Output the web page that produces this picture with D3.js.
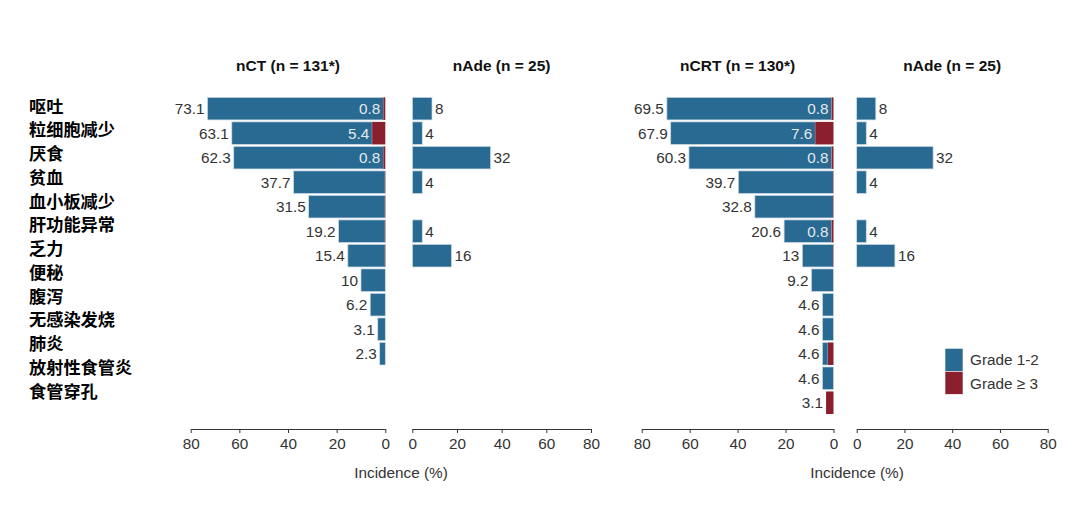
<!DOCTYPE html>
<html><head><meta charset="utf-8">
<script src="https://cdn.jsdelivr.net/npm/d3@7"></script>
<style>html,body{margin:0;padding:0;background:#fff;}</style>
</head><body>
<svg id="chart" width="1080" height="510"></svg>
<script>
const categories = ["呕吐","粒细胞减少","厌食","贫血","血小板减少","肝功能异常","乏力","便秘","腹泻","无感染发烧","肺炎","放射性食管炎","食管穿孔"];
// total incidence (%) per category, null = no bar
const nctTotal  = [73.1, 63.1, 62.3, 37.7, 31.5, 19.2, 15.4, 10, 6.2, 3.1, 2.3, null, null];
const nctGrade3 = [0.8, 5.4, 0.8, 0, 0, 0, 0, null, null, null, null, null, null];
const ncrtTotal  = [69.5, 67.9, 60.3, 39.7, 32.8, 20.6, 13, 9.2, 4.6, 4.6, 4.6, 4.6, 3.1];
const ncrtGrade3 = [0.8, 7.6, 0.8, 0, 0, 0.8, 0, null, null, null, 2.3, null, 3.1];
const adeLeft  = [8, 4, 32, 4, null, 4, 16, null, null, null, null, null, null];
const adeRight = [8, 4, 32, 4, null, 4, 16, null, null, null, null, null, null];
const titles = ["nCT (n = 131*)", "nAde (n = 25)", "nCRT (n = 130*)", "nAde (n = 25)"];
const tickValues = [0, 20, 40, 60, 80];
const legendLabels = ["Grade 1-2", "Grade \u2265 3"];
const axisTitle = "Incidence (%)";

const BLUE = "#286a91", RED = "#8a1f2e", TXT = "#333333";
const FONT = "'Liberation Sans', Arial, sans-serif";
const FS = 15.3;
const svg = d3.select("#chart");

const y = d3.scaleBand().domain(categories).range([96.4, 415]).paddingInner(0.08).paddingOuter(0.04);
const yLab = d3.scalePoint().domain(categories).range([105, 390]);

// category labels
svg.append("g").selectAll("text").data(categories).join("text")
  .attr("x", 29).attr("y", d => yLab(d)).attr("dominant-baseline", "central")
  .attr("font-family", "'Noto Sans CJK SC', sans-serif").attr("font-weight", "bold")
  .attr("font-size", 17.2).attr("fill", "#000").text(d => d);

const panels = [
  {title: titles[0], total: nctTotal, g3: nctGrade3, dir: -1,
   xBar: d3.scaleLinear().domain([0,80]).range([385.3,190.7]),
   xAxis: d3.scaleLinear().domain([0,80]).range([385.3,190.7])},
  {title: titles[1], total: adeLeft, g3: null, dir: 1,
   xBar: d3.scaleLinear().domain([0,80]).range([412.5,607.5]),
   xAxis: d3.scaleLinear().domain([0,80]).range([412.3,591])},
  {title: titles[2], total: ncrtTotal, g3: ncrtGrade3, dir: -1,
   xBar: d3.scaleLinear().domain([0,80]).range([833.5,641.7]),
   xAxis: d3.scaleLinear().domain([0,80]).range([833.5,641.7])},
  {title: titles[3], total: adeRight, g3: null, dir: 1,
   xBar: d3.scaleLinear().domain([0,80]).range([856.7,1047.7]),
   xAxis: d3.scaleLinear().domain([0,80]).range([856.7,1047.7])}
];

panels.forEach(p => {
  const g = svg.append("g");
  const ax = p.xAxis;
  // title
  g.append("text").attr("x", (ax(0)+ax(80))/2).attr("y", 65).attr("dominant-baseline","central")
    .attr("text-anchor","middle").attr("font-family",FONT).attr("font-weight","bold")
    .attr("font-size",15.5).attr("fill","#111").text(p.title);
  const rows = categories.map((c,i) => ({c, t: p.total[i], r: p.g3 ? p.g3[i] : null})).filter(d => d.t != null);
  const x = p.xBar;
  // blue portion
  g.selectAll("rect.blue").data(rows.filter(d => d.t - (d.r||0) > 0)).join("rect").attr("class","blue")
    .attr("x", d => Math.min(x(d.r||0), x(d.t)))
    .attr("width", d => Math.abs(x(d.t) - x(d.r||0)))
    .attr("y", d => y(d.c)).attr("height", y.bandwidth())
    .attr("fill", BLUE).attr("stroke", "#c9d9e5").attr("stroke-width", 0.7);
  // red portion
  g.selectAll("rect.red").data(rows.filter(d => d.r > 0)).join("rect").attr("class","red")
    .attr("x", d => Math.min(x(0), x(d.r)))
    .attr("width", d => Math.abs(x(d.r) - x(0)))
    .attr("y", d => y(d.c)).attr("height", y.bandwidth())
    .attr("fill", RED);
  // faint zero grade-3 markers
  g.selectAll("line.zero").data(rows.filter(d => d.r === 0)).join("line").attr("class","zero")
    .attr("x1", x(0)).attr("x2", x(0)).attr("y1", d => y(d.c)).attr("y2", d => y(d.c)+y.bandwidth())
    .attr("stroke", "#d59aa3").attr("stroke-width", 1);
  // total labels
  g.selectAll("text.tot").data(rows).join("text").attr("class","tot")
    .attr("x", d => x(d.t) + p.dir*3).attr("y", d => y(d.c)+y.bandwidth()/2)
    .attr("dominant-baseline","central").attr("text-anchor", p.dir < 0 ? "end" : "start")
    .attr("font-family",FONT).attr("font-size",FS).attr("fill",TXT)
    .text(d => d.t);
  // grade-3 labels inside blue
  g.selectAll("text.g3").data(rows.filter(d => d.r > 0 && d.t - d.r > 10)).join("text").attr("class","g3")
    .attr("x", d => x(d.r) + p.dir*3).attr("y", d => y(d.c)+y.bandwidth()/2)
    .attr("dominant-baseline","central").attr("text-anchor","end")
    .attr("font-family",FONT).attr("font-size",FS).attr("fill","#e4e9ee")
    .text(d => d.r);
  // axis
  const axis = d3.axisBottom(ax).tickValues(tickValues).tickSize(4).tickSizeOuter(0).tickPadding(5);
  const ag = g.append("g").attr("transform","translate(0,429)").call(axis);
  ag.select(".domain").attr("stroke", TXT);
  ag.selectAll(".tick line").attr("stroke", TXT);
  ag.selectAll("text").attr("font-family",FONT).attr("font-size",FS).attr("fill",TXT);
});

// axis titles
[401, 857].forEach(cx => {
  svg.append("text").attr("x", cx).attr("y", 472).attr("dominant-baseline","central")
    .attr("text-anchor","middle").attr("font-family",FONT).attr("font-size",FS).attr("fill",TXT)
    .text(axisTitle);
});

// legend
const leg = svg.append("g");
const legColors = [BLUE, RED];
leg.selectAll("rect").data(legendLabels).join("rect")
  .attr("x", 945).attr("y", (d,i) => 348.3 + i*23).attr("width", 18).attr("height", 23)
  .attr("fill", (d,i) => legColors[i]).attr("stroke","#ffffff").attr("stroke-width",0.6);
leg.selectAll("text").data(legendLabels).join("text")
  .attr("x", 970).attr("y", (d,i) => 359.5 + i*24).attr("dominant-baseline","central")
  .attr("font-family",FONT).attr("font-size",FS).attr("fill",TXT).text(d => d);
</script>
</body></html>
